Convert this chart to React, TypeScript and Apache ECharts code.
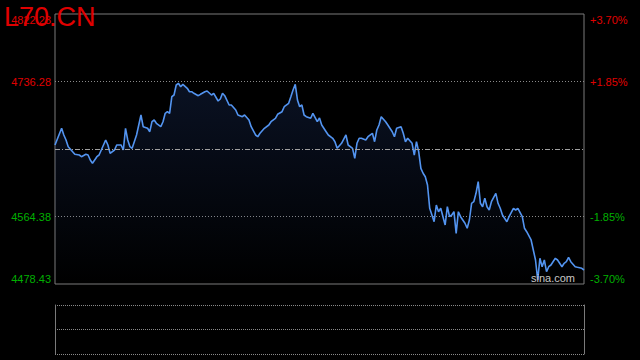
import React, { useEffect, useRef } from "react";
import * as echarts from "echarts";

const TITLE = "L70.CN";
const PRICE_MIN = 4478.43;
const PRICE_MAX = 4822.23;
const PRE_CLOSE = 4650.33;
const PRICE_STEP = 85.95;

// minutes since open (0..240) and index level
const MINUTES = [
  0, 3, 4, 5, 6, 8, 9, 11, 12, 14, 15, 16, 17, 19, 20, 21, 23, 24, 25, 27,
  28, 30, 31, 32, 33, 34, 35, 37, 38, 39, 40, 42, 43, 44, 45, 46, 48, 49, 50, 51,
  52, 53, 54, 55, 56, 57, 58, 60, 61, 62, 63, 65, 66, 68, 69, 71, 72, 74, 75, 76,
  77, 79, 80, 82, 83, 85, 86, 88, 89, 91, 92, 93, 95, 97, 98, 100, 101, 103, 104, 106,
  107, 108, 109, 110, 111, 112, 113, 114, 116, 117, 119, 120, 121, 123, 124, 126, 127, 128, 130, 132,
  133, 135, 136, 137, 138, 139, 141, 142, 144, 145, 146, 147, 148, 150, 151, 153, 154, 155, 157, 158,
  159, 160, 162, 163, 164, 165, 166, 167, 168, 169, 170, 171, 172, 173, 174, 175, 177, 178, 179, 180,
  181, 182, 183, 184, 186, 187, 188, 189, 190, 191, 192, 193, 194, 195, 196, 197, 198, 200, 201, 202,
  203, 205, 206, 208, 209, 210, 212, 213, 214, 216, 217, 218, 219, 220, 221, 222, 223, 224, 225, 227,
  228, 230, 231, 232, 233, 234, 236, 237, 239, 240,
];

const PRICES = [
  4655.42, 4676.69, 4668.16, 4661.79, 4653.26, 4646.89, 4643.58, 4642.69, 4640.53, 4643.58,
  4642.69, 4636.32, 4632.12, 4640.53, 4642.69, 4649.06, 4661.79, 4655.42, 4644.86, 4649.06,
  4655.42, 4655.42, 4649.06, 4676.69, 4661.79, 4653.26, 4651.22, 4668.16, 4680.89, 4693.62,
  4678.73, 4676.69, 4672.36, 4685.09, 4687.26, 4683.06, 4678.73, 4685.09, 4695.79, 4697.83,
  4695.79, 4716.93, 4719.09, 4731.82, 4733.99, 4729.66, 4732.6, 4727.62, 4723.29, 4723.29,
  4721.26, 4718.2, 4719.98, 4723.29, 4724.18, 4719.09, 4721.26, 4711.45, 4714.0, 4721.26,
  4718.2, 4706.36, 4706.36, 4699.99, 4693.62, 4691.46, 4693.62, 4687.26, 4678.73, 4668.16,
  4665.99, 4670.32, 4676.69, 4680.89, 4685.09, 4689.42, 4694.52, 4697.83, 4704.19, 4708.52,
  4716.93, 4725.46, 4732.72, 4712.73, 4704.19, 4706.36, 4693.62, 4691.46, 4689.42, 4695.79,
  4685.09, 4689.8, 4680.89, 4672.36, 4668.16, 4663.96, 4659.63, 4651.22, 4657.59, 4668.16,
  4655.42, 4651.22, 4638.49, 4657.59, 4663.96, 4663.96, 4661.79, 4665.99, 4670.32, 4659.63,
  4674.52, 4680.89, 4691.46, 4685.09, 4680.89, 4672.36, 4665.99, 4676.69, 4678.73, 4670.32,
  4659.63, 4663.96, 4657.59, 4642.69, 4659.63, 4646.89, 4625.75, 4619.39, 4615.06, 4604.49,
  4574.82, 4566.29, 4557.76, 4579.02, 4570.49, 4574.82, 4553.56, 4576.86, 4564.13, 4566.29,
  4570.49, 4542.99, 4570.49, 4564.13, 4555.72, 4549.36, 4559.93, 4581.19, 4583.23, 4593.92,
  4608.69, 4581.19, 4576.86, 4587.56, 4576.86, 4572.66, 4583.23, 4593.92, 4581.19, 4574.82,
  4566.29, 4557.76, 4564.13, 4574.82, 4572.66, 4574.82, 4564.13, 4549.36, 4545.02, 4534.46,
  4521.72, 4509.0, 4483.53, 4511.16, 4500.46, 4509.0, 4494.09, 4500.46, 4502.63, 4511.16,
  4509.0, 4500.46, 4504.79, 4506.83, 4512.43, 4506.83, 4500.46, 4499.7, 4498.42, 4496.26,
];

const RED = "#e00000";
const GREEN = "#00b000";
const FONT = "'Liberation Sans', Arial, sans-serif";

export default function App() {
  const ref = useRef<HTMLDivElement>(null);

  useEffect(() => {
    if (!ref.current) return;
    const chart = echarts.init(ref.current, undefined, { renderer: "svg" });
    const range = PRICE_MAX - PRICE_MIN;
    const toPrice = (v: number) => v + PRICE_MIN;
    const data = MINUTES.map((m, i) => [m, PRICES[i] - PRICE_MIN]);
    const isMid = (v: number) => Math.abs(toPrice(v) - PRE_CLOSE) < 0.01;
    const labelColor = (v: any) => (toPrice(Number(v)) > PRE_CLOSE ? RED : GREEN);

    const baseY = {
      type: "value",
      gridIndex: 0,
      min: 0,
      max: range,
      interval: PRICE_STEP,
      axisLine: { show: false },
      axisTick: { show: false },
    };

    chart.setOption({
      animation: false,
      backgroundColor: "#000",
      title: {
        text: TITLE,
        left: 4,
        top: 3,
        padding: 0,
        textStyle: { color: RED, fontSize: 27, fontWeight: "normal", fontFamily: FONT },
      },
      grid: [
        { left: 55, right: 56, top: 14, bottom: 76, show: true, borderColor: "#7a7a7a", borderWidth: 1, backgroundColor: "transparent" },
        { left: 55, right: 56, top: 305, bottom: 6, show: false },
      ],
      xAxis: [
        { type: "value", gridIndex: 0, min: 0, max: 240, show: false },
        { type: "value", gridIndex: 1, min: 0, max: 240, show: false },
      ],
      yAxis: [
        {
          ...baseY,
          position: "left",
          splitLine: {
            show: true,
            lineStyle: { color: ["transparent", "#8a8a8a", "transparent", "#8a8a8a", "transparent"], type: [1, 2], width: 1 },
          },
          axisLabel: {
            show: true,
            margin: 4,
            fontSize: 11,
            fontFamily: FONT,
            color: labelColor,
            verticalAlignMinLabel: "bottom",
            verticalAlignMaxLabel: "top",
            formatter: (v: number) => (isMid(v) ? "" : toPrice(v).toFixed(2)),
          },
        },
        {
          ...baseY,
          position: "right",
          splitLine: { show: false },
          axisLabel: {
            show: true,
            margin: 6,
            fontSize: 11,
            fontFamily: FONT,
            color: labelColor,
            verticalAlignMinLabel: "bottom",
            verticalAlignMaxLabel: "top",
            formatter: (v: number) => {
              if (isMid(v)) return "";
              const pct = ((toPrice(v) - PRE_CLOSE) / PRE_CLOSE) * 100;
              return (pct > 0 ? "+" : "") + pct.toFixed(2) + "%";
            },
          },
        },
        {
          type: "value",
          gridIndex: 1,
          min: 0,
          max: 2,
          interval: 1,
          position: "left",
          axisLine: { show: true, lineStyle: { color: "#7a7a7a", width: 1 } },
          axisTick: { show: false },
          axisLabel: { show: false },
          splitLine: { show: true, lineStyle: { color: "#8a8a8a", type: [1, 1], width: 1 } },
        },
        {
          type: "value",
          gridIndex: 1,
          min: 0,
          max: 2,
          interval: 1,
          position: "right",
          axisLine: { show: true, lineStyle: { color: "#7a7a7a", width: 1 } },
          axisTick: { show: false },
          axisLabel: { show: false },
          splitLine: { show: false },
        },
      ],
      graphic: [
        {
          type: "text",
          left: 531,
          top: 272,
          z: 10,
          style: { text: "sina.com", fill: "#c8c8c8", font: `11px ${FONT}` },
        },
      ],
      series: [
        {
          type: "line",
          xAxisIndex: 0,
          yAxisIndex: 0,
          data,
          showSymbol: false,
          symbol: "none",
          lineStyle: { color: "#5394f0", width: 1.6 },
          areaStyle: {
            origin: "start",
            color: new echarts.graphic.LinearGradient(0, 0, 0, 1, [
              { offset: 0, color: "rgba(40,70,140,0.35)" },
              { offset: 1, color: "rgba(40,70,140,0.0)" },
            ]),
          },
          markLine: {
            silent: true,
            symbol: "none",
            label: { show: false },
            lineStyle: { color: "#a0a0a0", type: [5, 2, 1, 2], width: 1 },
            data: [{ yAxis: PRE_CLOSE - PRICE_MIN }],
          },
        },
      ],
    });
    return () => chart.dispose();
  }, []);

  return (
    <div
      ref={ref}
      style={{ position: "fixed", left: 0, top: 0, width: 640, height: 360, background: "#000" }}
    />
  );
}
